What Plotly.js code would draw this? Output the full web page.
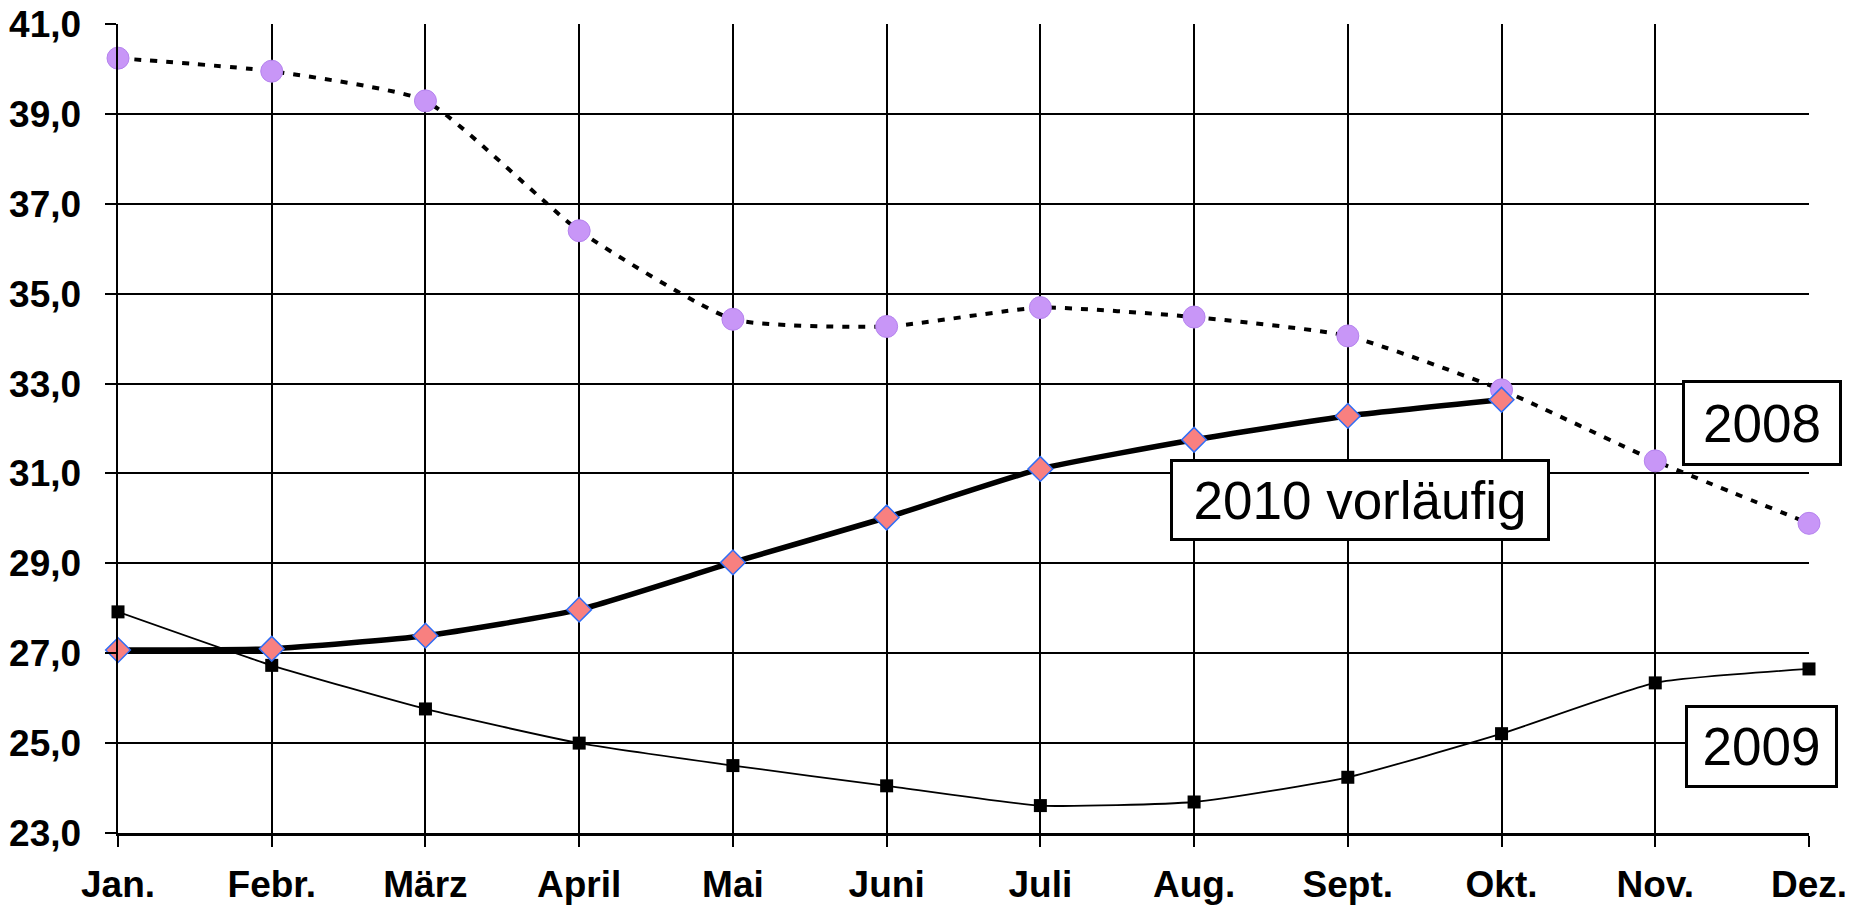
<!DOCTYPE html>
<html>
<head>
<meta charset="utf-8">
<script src="https://cdn.plot.ly/plotly-3.0.1.min.js"></script>
<style>html,body{margin:0;padding:0;background:#fff;}#chart{width:1854px;height:908px;}</style>
</head>
<body>
<div id="chart"></div>
<script>
const months = ["Jan.", "Febr.", "März", "April", "Mai", "Juni", "Juli", "Aug.", "Sept.", "Okt.", "Nov.", "Dez."];
const values2008 = [40.24, 39.95, 39.29, 36.4, 34.43, 34.27, 34.69, 34.48, 34.06, 32.86, 31.28, 29.89];
const values2009 = [27.92, 26.73, 25.76, 25.0, 24.5, 24.05, 23.61, 23.69, 24.24, 25.21, 26.34, 26.65];
const values2010 = [27.07, 27.1, 27.39, 27.97, 29.02, 30.02, 31.1, 31.75, 32.28, 32.64];
const yTicks = [23, 25, 27, 29, 31, 33, 35, 37, 39, 41];
const labels = {y2008: "2008", y2009: "2009", y2010: "2010 vorläufig"};

const idx = months.map((m, i) => i);
const font = "'Liberation Sans', Arial, sans-serif";

const traces = [
  {
    x: idx, y: values2009, type: "scatter", mode: "lines+markers", name: "2009",
    line: {color: "#000", width: 1.8, shape: "spline", smoothing: 0.5},
    marker: {symbol: "square", size: 13, color: "#000"},
    cliponaxis: false
  },
  {
    x: idx, y: values2008, type: "scatter", mode: "lines+markers", name: "2008",
    line: {color: "#000", width: 4, dash: "7px,9px", shape: "spline", smoothing: 0.5},
    marker: {symbol: "circle", size: 22, color: "#c896f7", line: {color: "#b583ee", width: 1}},
    cliponaxis: false
  },
  {
    x: idx.slice(0, values2010.length), y: values2010, type: "scatter", mode: "lines+markers", name: "2010 vorläufig",
    line: {color: "#000", width: 5.5, shape: "spline", smoothing: 0.5},
    marker: {symbol: "diamond", size: 19, color: "#f88080", line: {color: "#2f6df5", width: 1.5}},
    cliponaxis: false
  }
];

const annBase = {
  xref: "paper", yref: "paper", showarrow: false,
  font: {family: font, size: 53, color: "#000"},
  bgcolor: "#fff", bordercolor: "#000", borderwidth: 3, borderpad: 1,
  xanchor: "center", yanchor: "middle"
};

const layout = {
  width: 1854, height: 908,
  margin: {l: 118, r: 45, t: 24, b: 75},
  paper_bgcolor: "#fff", plot_bgcolor: "#fff",
  showlegend: false,
  separators: ",.",
  font: {family: font, color: "#000"},
  xaxis: {
    range: [0, 11], tickvals: idx, ticktext: months,
    showgrid: true, gridcolor: "#000", gridwidth: 2,
    showline: true, linecolor: "#000", linewidth: 2.5,
    ticks: "outside", ticklen: 11, tickwidth: 2, tickcolor: "#000",
    ticklabelstandoff: 6,
    tickfont: {family: font, size: 37, color: "#000", weight: "bold"},
    zeroline: false, fixedrange: true
  },
  yaxis: {
    range: [23, 41], tickvals: yTicks, tickformat: ".1f",
    showgrid: true, gridcolor: "#000", gridwidth: 2,
    showline: true, linecolor: "#000", linewidth: 2.5,
    ticks: "outside", ticklen: 11, tickwidth: 2, tickcolor: "#000",
    ticklabelstandoff: 16,
    tickfont: {family: font, size: 37, color: "#000", weight: "bold"},
    zeroline: false, fixedrange: true
  },
  annotations: [
    Object.assign({}, annBase, {text: labels.y2008, x: 0.972, y: 0.507, width: 152, height: 78}),
    Object.assign({}, annBase, {text: labels.y2009, x: 0.972, y: 0.1075, width: 145, height: 75}),
    Object.assign({}, annBase, {text: labels.y2010, x: 0.7345, y: 0.4116, width: 372, height: 74})
  ]
};

Plotly.newPlot("chart", traces, layout, {displayModeBar: false, staticPlot: true});
</script>
</body>
</html>
